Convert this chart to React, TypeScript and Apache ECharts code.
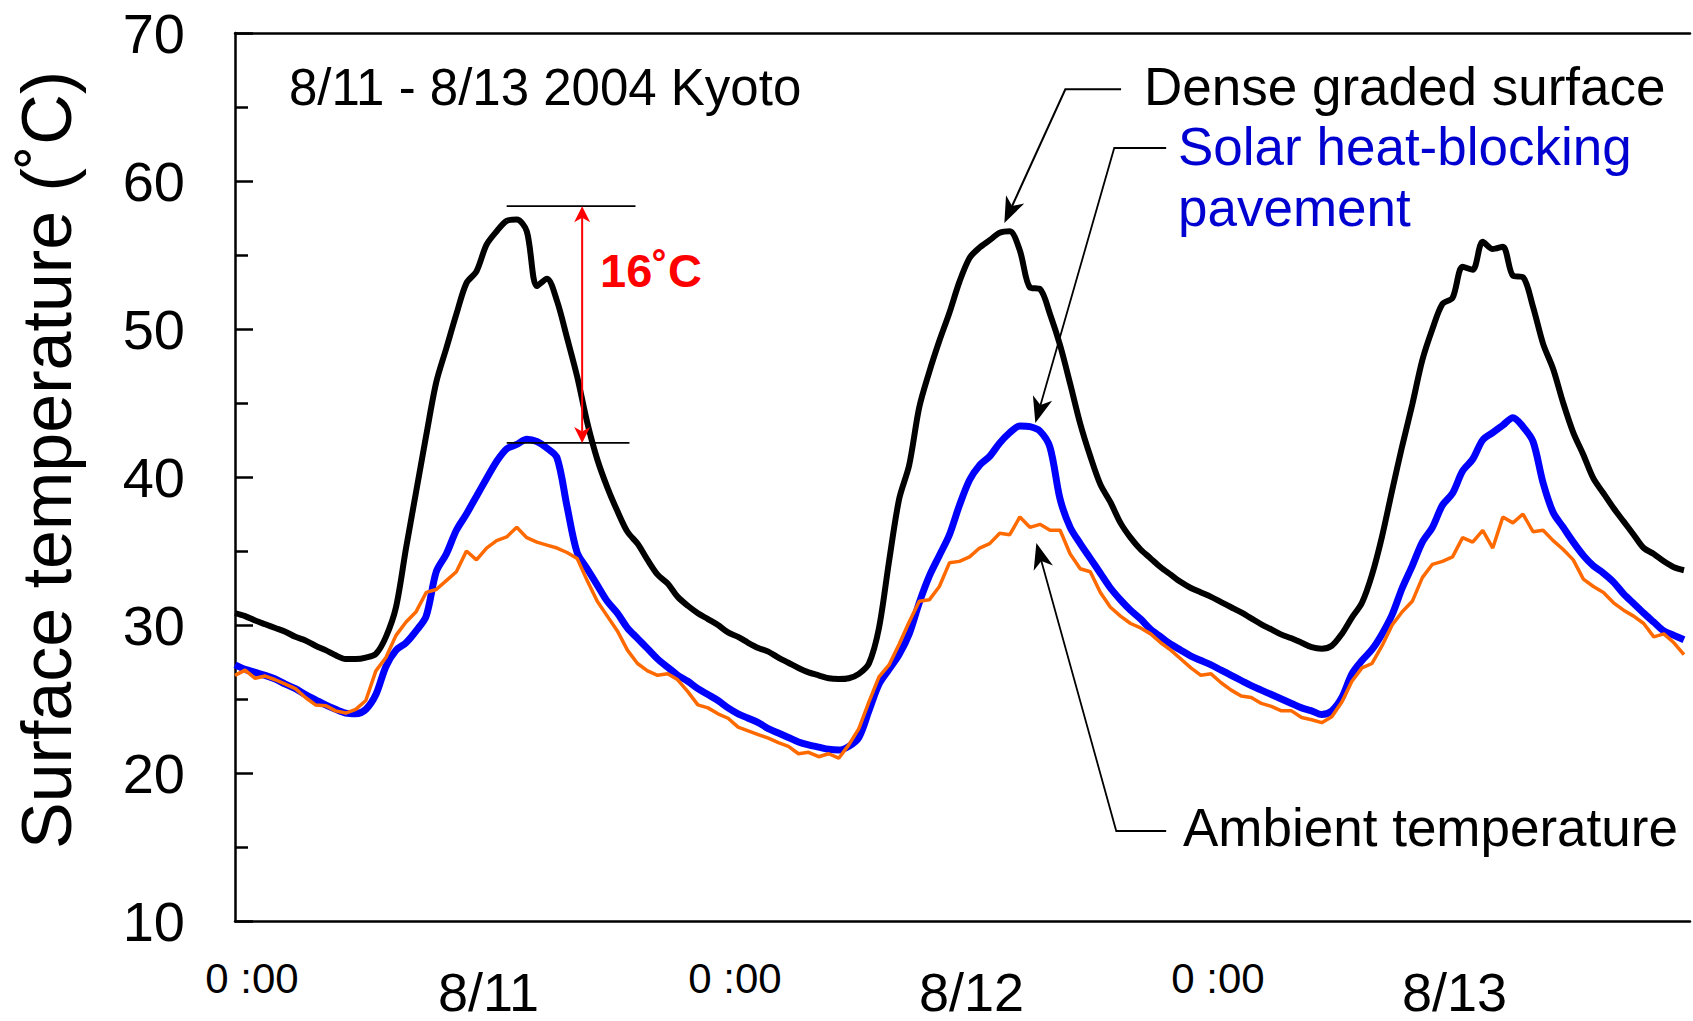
import React, { useEffect, useRef } from "react";
import * as echarts from "echarts";

// Half-hourly readings, 8/11 0:00 through 8/14 0:00
const STEP_HOURS = 0.5;

// Dense graded asphalt surface temperature (°C)
const DENSE_GRADED = [
  30.8, 30.6, 30.3, 30.05, 29.8, 29.55, 29.2, 28.95,
  28.6, 28.3, 27.95, 27.7, 27.7, 27.8, 28.05, 29.2,
  31.2, 35.2, 39.0, 42.8, 46.4, 48.7, 51.0, 53.1,
  53.9, 55.7, 56.6, 57.3, 57.4, 56.6, 52.9, 53.4,
  51.9, 49.4, 46.8, 43.7, 41.2, 39.3, 37.7, 36.3,
  35.5, 34.4, 33.4, 32.8, 31.9, 31.3, 30.8, 30.4,
  30.0, 29.5, 29.2, 28.8, 28.45, 28.2, 27.8, 27.45,
  27.1, 26.8, 26.6, 26.4, 26.35, 26.4, 26.7, 27.4,
  29.8, 34.3, 38.5, 40.8, 44.7, 47.1, 49.2, 51.1,
  53.2, 54.8, 55.5, 56.0, 56.5, 56.6, 55.3, 52.8,
  52.7, 51.0, 48.9, 46.3, 43.6, 41.4, 39.5, 38.3,
  36.9, 35.9, 35.1, 34.5, 33.9, 33.4, 32.9, 32.5,
  32.2, 31.9, 31.55, 31.2, 30.85, 30.45, 30.05, 29.7,
  29.35, 29.1, 28.8, 28.5, 28.4, 28.6, 29.4, 30.5,
  31.5, 33.4, 36.0, 39.1, 42.1, 44.9, 47.9, 50.0,
  51.7, 52.1, 54.2, 54.0, 55.9, 55.4, 55.55, 53.6,
  53.5, 51.5, 49.0, 47.3, 45.0, 43.0, 41.5, 39.9,
  38.9, 37.9, 37.0, 36.1, 35.2, 34.8, 34.3, 33.9,
  33.7,
];

// Solar heat-blocking pavement surface temperature (°C)
const SOLAR_BLOCKING = [
  27.3, 27.0, 26.8, 26.6, 26.35, 26.0, 25.7, 25.3,
  24.95, 24.6, 24.3, 24.05, 24.0, 24.3, 25.3, 27.2,
  28.3, 28.8, 29.6, 30.6, 33.6, 34.8, 36.4, 37.5,
  38.7, 39.9, 41.05, 41.9, 42.2, 42.55, 42.4, 41.95,
  41.3, 38.0, 34.9, 33.8, 32.7, 31.6, 30.8, 29.8,
  29.1, 28.4, 27.7, 27.15, 26.6, 26.2, 25.7, 25.3,
  24.9, 24.4, 24.0, 23.7, 23.4, 23.0, 22.7, 22.4,
  22.1, 21.9, 21.75, 21.6, 21.55, 21.8, 22.4, 24.2,
  26.0, 27.0, 28.0, 29.4, 31.5, 33.3, 34.7, 36.1,
  38.1, 39.8, 40.8, 41.4, 42.3, 43.0, 43.45, 43.4,
  43.1, 42.0, 38.5, 36.6, 35.5, 34.5, 33.5, 32.5,
  31.7, 31.0, 30.4, 29.7, 29.2, 28.7, 28.3, 27.9,
  27.6, 27.3, 26.95, 26.6, 26.25, 25.9, 25.6, 25.3,
  25.0, 24.7, 24.4, 24.2, 23.95, 24.2, 25.1, 26.7,
  27.6, 28.35, 29.4, 30.7, 32.5, 34.0, 35.6, 36.6,
  38.1, 38.9, 40.4, 41.2, 42.5, 43.0, 43.5, 44.0,
  43.4, 42.4, 39.6, 37.6, 36.6, 35.6, 34.7, 34.0,
  33.5, 32.9, 32.1, 31.45, 30.8, 30.2, 29.6, 29.3,
  29.0,
];

// Ambient air temperature (°C)
const AMBIENT = [
  26.6, 26.95, 26.4, 26.55, 26.3, 26.0, 25.7, 25.1,
  24.6, 24.55, 24.2, 24.05, 24.3, 24.9, 26.9, 27.8,
  29.3, 30.2, 30.9, 32.2, 32.4, 33.0, 33.6, 35.0,
  34.4, 35.2, 35.7, 35.95, 36.6, 35.9, 35.6, 35.4,
  35.2, 34.9, 34.5, 33.0, 31.6, 30.6, 29.6, 28.3,
  27.4, 26.9, 26.6, 26.7, 26.3, 25.5, 24.6, 24.4,
  24.0, 23.7, 23.1, 22.85, 22.6, 22.35, 22.05, 21.8,
  21.3, 21.4, 21.1, 21.3, 21.0, 21.9, 23.0, 24.8,
  26.5, 27.3, 28.7, 30.2, 31.6, 31.7, 32.6, 34.2,
  34.3, 34.6, 35.2, 35.5, 36.2, 36.1, 37.3, 36.6,
  36.8, 36.4, 36.4, 34.8, 33.8, 33.6, 32.2, 31.2,
  30.6, 30.1, 29.8, 29.4, 28.8, 28.3, 27.7, 27.1,
  26.6, 26.7, 26.1, 25.6, 25.2, 25.1, 24.7, 24.5,
  24.2, 24.2, 23.75, 23.6, 23.4, 23.8, 24.8, 26.2,
  27.1, 27.4, 28.6, 30.0, 30.9, 31.6, 33.2, 34.1,
  34.3, 34.6, 35.9, 35.6, 36.4, 35.2, 37.3, 36.9,
  37.5, 36.3, 36.4, 35.7, 35.1, 34.4, 33.1, 32.6,
  32.2, 31.5, 31.0, 30.6, 30.1, 29.2, 29.4, 28.8,
  28.0,
];

// Axis extents and tick labels
const Y_MIN = 10;
const Y_MAX = 70;
const Y_STEP = 10;
const X_MAX_HOURS = 72.3;
const X_STEP_HOURS = 12;
const MIDNIGHT_LABEL = "0 :00";
const DAY_LABELS = ["8/11", "8/12", "8/13"];
const Y_TITLE = "Surface temperature (˚C)";

// Peak difference marker on 8/11 (°C) and its label
const GAP_TOP = 58.3;
const GAP_BOTTOM = 42.3;
const GAP_LABEL = "16˚C";

// Callout leader lines, in (hour, °C)
const DENSE_CALLOUT = [[44.03, 66.2], [41.26, 66.2], [38.23, 57.16]];
const SOLAR_CALLOUT = [[46.27, 62.23], [43.69, 62.23], [39.77, 43.65]];
const AMBIENT_CALLOUT = [[46.27, 16.08], [43.79, 16.08], [39.82, 35.54]];

const FONT = '"Liberation Sans", Arial, Helvetica, sans-serif';

const toPairs = (values: number[]) => values.map((v, i) => [i * STEP_HOURS, v]);

const isWhole = (v: number) => Math.abs(v - Math.round(v)) < 1e-6;

function midnightLabel(v: number): string {
  if (!isWhole(v)) return "";
  return v % 24 === 0 && v < 72 ? `{t|${MIDNIGHT_LABEL}}` : "";
}

function dayLabel(v: number): string {
  if (!isWhole(v) || v % 24 !== 12) return "";
  const d = DAY_LABELS[(v - 12) / 24];
  return d ? `{d|${d}}` : "";
}

// Barbed arrowhead pointing at `tip`, coming from `from`
function arrowHead(tip: number[], from: number[], len: number, wid: number) {
  const dx = tip[0] - from[0];
  const dy = tip[1] - from[1];
  const d = Math.hypot(dx, dy) || 1;
  const ux = dx / d;
  const uy = dy / d;
  const nx = -uy;
  const ny = ux;
  const bx = tip[0] - ux * len;
  const by = tip[1] - uy * len;
  const notch = [tip[0] - ux * len * 0.72, tip[1] - uy * len * 0.72];
  return {
    points: [tip, [bx + (nx * wid) / 2, by + (ny * wid) / 2], notch, [bx - (nx * wid) / 2, by - (ny * wid) / 2]],
    notch,
  };
}

export default function App() {
  const ref = useRef<HTMLDivElement>(null);

  useEffect(() => {
    if (!ref.current) return;
    const chart = echarts.init(ref.current, undefined, { renderer: "svg" });

    const hourAxis = {
      type: "value",
      min: 0,
      max: X_MAX_HOURS,
      interval: X_STEP_HOURS,
      axisTick: { show: false },
      splitLine: { show: false },
    };

    const option: any = {
      animation: false,
      backgroundColor: "#ffffff",
      grid: { left: 235, top: 33, right: 0, bottom: 100 },
      xAxis: [
        {
          ...hourAxis,
          position: "bottom",
          axisLine: { show: true, onZero: false, lineStyle: { color: "#000", width: 2.5 } },
          axisLabel: {
            margin: 36,
            formatter: midnightLabel,
            rich: {
              t: { fontSize: 42, fontFamily: FONT, color: "#000", lineHeight: 42, padding: [0, 0, 0, 34] },
            },
          },
        },
        {
          ...hourAxis,
          position: "top",
          axisLine: { show: true, onZero: false, lineStyle: { color: "#000", width: 2.5 } },
          axisLabel: { show: false },
        },
        {
          ...hourAxis,
          position: "bottom",
          axisLine: { show: false, onZero: false },
          axisLabel: {
            margin: 44,
            formatter: dayLabel,
            rich: {
              d: { fontSize: 54, fontFamily: FONT, color: "#000", lineHeight: 54, padding: [0, 0, 0, 24] },
            },
          },
        },
      ],
      yAxis: {
        type: "value",
        min: Y_MIN,
        max: Y_MAX,
        interval: Y_STEP,
        axisLine: { show: true, lineStyle: { color: "#000", width: 2.5 } },
        axisTick: { show: true, inside: true, length: 18, lineStyle: { color: "#000", width: 2.5 } },
        minorTick: { show: true, splitNumber: 2, length: 13, lineStyle: { color: "#000", width: 2.5 } },
        splitLine: { show: false },
        axisLabel: { margin: 50, fontSize: 56, color: "#000", fontFamily: FONT },
      },
      series: [
        {
          name: "Solar heat-blocking pavement",
          type: "line",
          data: toPairs(SOLAR_BLOCKING),
          showSymbol: false,
          smooth: 0.3,
          lineStyle: { color: "#0000ff", width: 7 },
          z: 2,
          silent: true,
        },
        {
          name: "Ambient temperature",
          type: "line",
          data: toPairs(AMBIENT),
          showSymbol: false,
          lineStyle: { color: "#ff6a00", width: 3.5 },
          z: 3,
          silent: true,
        },
        {
          name: "Dense graded surface",
          type: "line",
          data: toPairs(DENSE_GRADED),
          showSymbol: false,
          smooth: 0.3,
          lineStyle: { color: "#000000", width: 6 },
          z: 4,
          silent: true,
        },
      ],
    };

    chart.setOption(option);

    const px = (p: number[]) => chart.convertToPixel({ gridIndex: 0 }, p) as number[];
    const elements: any[] = [];

    const callout = (pts: number[][], width: number) => {
      const p = pts.map(px);
      const tip = p[p.length - 1];
      const head = arrowHead(tip, p[p.length - 2], 26, 20);
      const linePts = p.slice(0, -1).concat([head.notch]);
      elements.push({
        type: "polyline",
        silent: true,
        z: 100,
        shape: { points: linePts },
        style: { stroke: "#000", lineWidth: width, fill: null },
      });
      elements.push({
        type: "polygon",
        silent: true,
        z: 101,
        shape: { points: head.points },
        style: { fill: "#000" },
      });
    };
    callout(DENSE_CALLOUT, 2);
    callout(SOLAR_CALLOUT, 1.8);
    callout(AMBIENT_CALLOUT, 1.8);

    // 16˚C peak difference marker
    const topL = px([13.5, GAP_TOP]);
    const topR = px([19.9, GAP_TOP]);
    const botL = px([13.5, GAP_BOTTOM]);
    const botR = px([19.6, GAP_BOTTOM]);
    const arrTop = px([17.25, GAP_TOP]);
    const arrBot = px([17.25, GAP_BOTTOM]);
    elements.push({ type: "line", silent: true, z: 100, shape: { x1: topL[0], y1: topL[1], x2: topR[0], y2: topR[1] }, style: { stroke: "#000", lineWidth: 1.8 } });
    elements.push({ type: "line", silent: true, z: 100, shape: { x1: botL[0], y1: botL[1], x2: botR[0], y2: botR[1] }, style: { stroke: "#000", lineWidth: 1.8 } });
    const headUp = arrowHead(arrTop, arrBot, 16, 16);
    const headDown = arrowHead(arrBot, arrTop, 16, 16);
    elements.push({
      type: "line",
      silent: true,
      z: 102,
      shape: { x1: headUp.notch[0], y1: headUp.notch[1], x2: headDown.notch[0], y2: headDown.notch[1] },
      style: { stroke: "#ff0000", lineWidth: 2 },
    });
    elements.push({ type: "polygon", silent: true, z: 102, shape: { points: headUp.points }, style: { fill: "#ff0000" } });
    elements.push({ type: "polygon", silent: true, z: 102, shape: { points: headDown.points }, style: { fill: "#ff0000" } });

    const text = (s: string, x: number, y: number, size: number, fill: string, weight: string = "normal") => ({
      type: "text",
      silent: true,
      z: 110,
      x,
      y,
      style: { text: s, fill, fontSize: size, fontFamily: FONT, fontWeight: weight, align: "left", verticalAlign: "middle" },
    });

    // Vertical axis title
    elements.push({
      type: "text",
      silent: true,
      z: 110,
      x: 47,
      y: 460,
      rotation: Math.PI / 2,
      style: { text: Y_TITLE, fill: "#000", fontSize: 70, fontFamily: FONT, align: "center", verticalAlign: "middle" },
    });

    elements.push(text("8/11 - 8/13 2004 Kyoto", 289, 87, 51, "#000"));
    elements.push(text("Dense graded surface", 1144, 86, 53, "#000"));
    elements.push(text("Solar heat-blocking", 1178, 146, 53, "#0000d0"));
    elements.push(text("pavement", 1178, 207, 53, "#0000d0"));
    elements.push(text("Ambient temperature", 1183, 827, 53, "#000"));
    elements.push(text(GAP_LABEL, 600, 270, 47, "#ff0000", "bold"));

    chart.setOption({ graphic: elements });

    return () => chart.dispose();
  }, []);

  return (
    <div
      ref={ref}
      style={{ position: "fixed", left: 0, top: 0, width: 1693, height: 1021, background: "#fff" }}
    />
  );
}
